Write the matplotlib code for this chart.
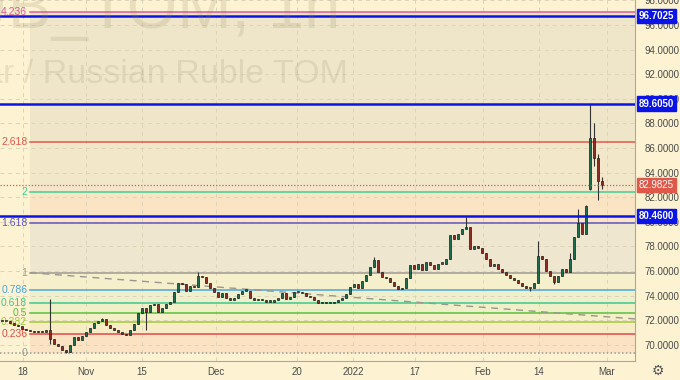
import numpy as np
import matplotlib
matplotlib.use('Agg')
import matplotlib.pyplot as plt
import matplotlib.transforms as mtransforms

plt.rcParams['font.family'] = ['Liberation Sans', 'DejaVu Sans']

# ============================================================
# Données (USDRUB_TOM, bougies regroupées ~ 1 barre = 4 px)
# ============================================================

closes = [
    71.9, 71.9, 71.8, 71.6, 71.5, 71.3, 71.2, 71.1, 71.0, 71.1,
    71.0, 71.2, 70.5, 70.1, 69.9, 69.6, 69.4, 70.0, 70.6, 70.4,
    70.7, 71.0, 71.4, 71.8, 71.9, 72.1, 71.6, 71.4, 71.2, 71.0,
    70.9, 70.8, 71.2, 71.7, 72.6, 73.0, 72.7, 73.2, 73.3, 72.7,
    73.0, 73.3, 73.5, 74.3, 75.0, 74.9, 74.4, 74.8, 74.7, 75.6,
    75.5, 75.0, 74.6, 74.3, 73.9, 74.2, 73.8, 73.6, 73.8, 74.1,
    74.4, 74.4, 73.8, 73.6, 73.7, 73.6, 73.5, 73.5, 73.6, 73.8,
    74.2, 73.7, 73.9, 74.3, 74.3, 74.2, 74.0, 73.9, 73.6, 73.4,
    73.5, 73.4, 73.4, 73.5, 73.6, 73.8, 74.1, 74.7, 74.9, 74.6,
    75.2, 75.7, 76.3, 76.9, 75.9, 75.5, 75.4, 75.1, 74.8, 74.5,
    74.6, 75.4, 76.5, 76.2, 76.6, 76.1, 76.7, 76.5, 76.2, 76.6,
    76.6, 77.0, 78.9, 78.6, 79.0, 79.4, 79.6, 77.8, 78.0, 77.9,
    77.5, 77.0, 76.4, 76.6, 76.2, 75.9, 75.7, 75.4, 75.3, 75.0,
    74.8, 74.6, 74.6, 75.0, 77.2, 77.0, 76.0, 75.6, 75.1, 75.6,
    76.2, 75.9, 77.0, 78.8, 79.9, 79.0, 81.3, 86.8, 85.2, 83.3,
    82.9825,
]

# mèches notables (index -> prix)
wick_highs = {12: 73.7, 25: 72.2, 49: 75.9, 93: 77.1, 116: 80.4, 134: 78.4,
              142: 77.5, 144: 81.0, 146: 81.4, 147: 89.6, 148: 88.0,
              149: 85.5, 150: 83.6}
wick_lows = {12: 70.1, 16: 69.3, 36: 71.2, 132: 74.4, 138: 74.9, 147: 82.6,
             148: 84.5, 149: 81.8, 150: 82.7}
gap_opens = {147: 82.7}

date_ticks = [5.25, 21, 35, 53.5, 73.75, 87.75, 103.25, 120.25, 134.25, 151.25]
date_labels = ["18", "Nov", "15", "Dec", "20", "2022", "17", "Feb", "14", "Mar"]

# Fibonacci
fib_low, fib_high = 69.31, 75.86
fib_start = 7
fib_ratios = [0, 0.236, 0.382, 0.5, 0.618, 0.786, 1, 1.618, 2, 2.618, 4.236]
fib_labels = ["0", "0.236", "0.382", "0.5", "0.618", "0.786", "1", "1.618", "2", "2.618", "4.236"]
fib_colors = ['#9a9a9a', '#e04a48', '#a3c93a', '#5cbf3c', '#3cc98a', '#4aa6de',
              '#a09a92', '#5b56c4', '#3fcf96', '#e0584a', '#e0589a']
fib_fills = ['#fbe2c2', '#f7ecc6', '#f3efc6', '#eff0c8', '#eeefcc', '#f6efcc',
             '#efe6cf', '#fbe4c4', '#f2e7c9', '#efe6c9']

# Niveaux horizontaux et prix courant
key_levels = [96.7025, 89.6050, 80.4600]
last_price = 82.9825

# ligne de tendance pointillée
trend_start = (7, 75.86)
trend_end = (158.25, 72.10)

BG = '#fdf3d2'

# ============================================================
# Figure
# ============================================================

fig = plt.figure(figsize=(6.8, 3.8), dpi=100, facecolor=BG)
ax = fig.add_axes([0, 19 / 380, 635 / 680, 361 / 380])
ax.set_facecolor(BG)

x_right = 158.25
ax.set_xlim(-0.5, x_right)
ax.set_ylim(68.68, 98.03)

# zones de Fibonacci
levels = [fib_low + r * (fib_high - fib_low) for r in fib_ratios]
for k in range(len(levels) - 1):
    ax.fill_between([fib_start, x_right], levels[k], levels[k + 1],
                    color=fib_fills[k], lw=0, zorder=0)

# grille
for t in date_ticks:
    ax.axvline(t, color='#ddd3b6', lw=0.7, ls=(0, (4, 4)), zorder=0.5)
for p in range(70, 99, 2):
    ax.axhline(p, color='#ddd3b6', lw=0.7, ls=(0, (4, 4)), zorder=0.5)

# filigrane
fig.text(0.50, 0.926, "USDRUB_TOM, 1h", ha='right', va='baseline',
         fontsize=47, color='#8c7f5c', alpha=0.17, zorder=0.6)
fig.text(0.512, 0.782, "U.S. Dollar / Russian Ruble TOM", ha='right', va='baseline',
         fontsize=24.5, color='#8c7f5c', alpha=0.17, zorder=0.6)

# niveaux de Fibonacci
for lvl, lab, col in zip(levels, fib_labels, fib_colors):
    ls = (0, (1, 1.5)) if lab == "0" else '-'
    ax.plot([fib_start, x_right], [lvl, lvl], color=col, lw=1.1, ls=ls, zorder=2)
    ax.text(fib_start - 0.7, lvl, lab, ha='right', va='center', fontsize=7.5,
            color=col, zorder=3)
ax.plot([-0.5, fib_start], [fib_low, fib_low], color='#9a9a9a', lw=1.1,
        ls=(0, (1, 1.5)), zorder=2)

# tendance
ax.plot([trend_start[0], trend_end[0]], [trend_start[1], trend_end[1]],
        color='#9a9690', lw=1, ls=(0, (5, 4)), zorder=2)

# bougies
n = len(closes)
xs = np.arange(n)
opens = [closes[0]] + closes[:-1]
for i, o in gap_opens.items():
    opens[i] = o
for i in range(n):
    o, c = opens[i], closes[i]
    hi = wick_highs.get(i, max(o, c))
    lo = wick_lows.get(i, min(o, c))
    col = '#1f6e52' if c >= o else '#8f2d28'
    ax.vlines(xs[i], lo, hi, color='#333333', lw=0.8, zorder=4)
    ax.bar(xs[i], max(abs(c - o), 0.1), bottom=min(o, c), width=0.6,
           color=col, edgecolor='#1c1c1c', linewidth=0.5, zorder=5)

# lignes horizontales bleues
for lvl in key_levels:
    ax.axhline(lvl, color='#0a14e6', lw=1.8, zorder=6)
ax.axhline(last_price, color='#e0584a', lw=0.9, ls=(0, (1, 1.5)), zorder=6)

# axe des prix
ax.yaxis.tick_right()
ax.set_yticks(range(70, 99, 2))
ax.set_yticklabels([f"{p:.4f}" for p in range(70, 99, 2)])
ax.tick_params(axis='y', length=0, pad=7, labelsize=7, labelcolor='#4a4a4a')
ax.set_xticks(date_ticks)
ax.set_xticklabels(date_labels)
ax.tick_params(axis='x', length=0, pad=4, labelsize=7, labelcolor='#4a4a4a')

for s in ['top', 'left']:
    ax.spines[s].set_visible(False)
ax.spines['right'].set_color('#a8a8a8')
ax.spines['bottom'].set_color('#a8a8a8')
ax.spines['right'].set_linewidth(0.8)
ax.spines['bottom'].set_linewidth(0.8)

# étiquettes de prix
trans = mtransforms.blended_transform_factory(ax.transAxes, ax.transData)
for lvl in key_levels:
    ax.text(1.006, lvl, f"{lvl:.4f}", transform=trans, ha='left', va='center',
            fontsize=7, color='white', fontweight='bold', zorder=10, clip_on=False,
            bbox=dict(boxstyle='square,pad=0.22', fc='#0a14e6', ec='#0a14e6'))
ax.text(1.006, last_price, f"{last_price:.4f}", transform=trans, ha='left', va='center',
        fontsize=7, color='white', zorder=10, clip_on=False,
        bbox=dict(boxstyle='square,pad=0.22', fc='#e0584a', ec='#e0584a'))

fig.text(658 / 680, 1 - 371 / 380, "\u2699", ha='center', va='center', fontsize=10,
         color='#555555', family=['DejaVu Sans'])

fig.savefig('out.png', dpi=100, facecolor=BG)
